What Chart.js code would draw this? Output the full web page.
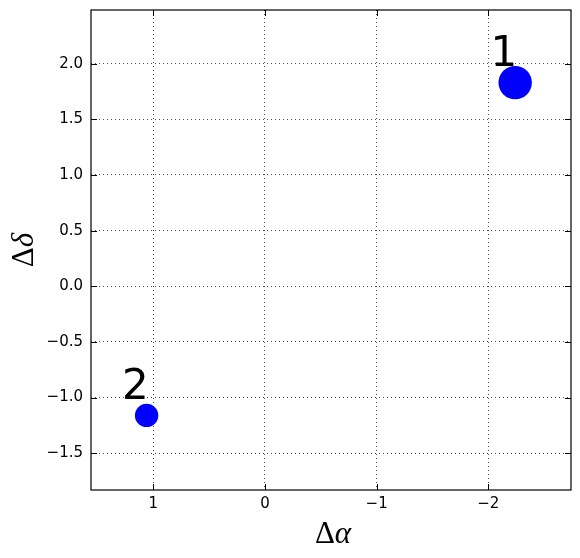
<!DOCTYPE html>
<html>
<head>
<meta charset="utf-8">
<script src="https://cdn.jsdelivr.net/npm/chart.js@4"></script>
<style>
html,body{margin:0;padding:0;background:#fff;}
#wrap{width:580px;height:558px;}
</style>
</head>
<body>
<div id="wrap"><canvas id="c" width="580" height="558"></canvas></div>
<script>
// Data
const pointLabels = ['1', '2'];
const deltaAlpha = [-2.24, 1.06];
const deltaDelta = [1.83, -1.16];
const markerRadius = [16.7, 11.7];
const xTickValues = [1, 0, -1, -2];
const yTickValues = [-1.5, -1.0, -0.5, 0.0, 0.5, 1.0, 1.5, 2.0];
const xRange = [-2.74, 1.558];
const yRange = [-1.83, 2.482];
const labelOffset = [0.22, 0.15];

const fmtMinus = s => s.replace('-', '\u2212');

const points = deltaAlpha.map((x, i) => ({x: x, y: deltaDelta[i]}));

const zeroPad = s => { s.paddingTop = 0; s.paddingBottom = 0; s.paddingLeft = 0; s.paddingRight = 0; };

const framePlugin = {
  id: 'frame',
  afterDatasetsDraw(chart) {
    const ctx = chart.ctx;
    const a = chart.chartArea;
    const xs = chart.scales.x, ys = chart.scales.y;
    ctx.save();
    // point labels
    ctx.fillStyle = '#000';
    ctx.font = '42px "DejaVu Sans"';
    ctx.textAlign = 'left';
    ctx.textBaseline = 'alphabetic';
    pointLabels.forEach((t, i) => {
      const px = xs.getPixelForValue(deltaAlpha[i] + labelOffset[0]);
      const py = ys.getPixelForValue(deltaDelta[i] + labelOffset[1]);
      ctx.fillText(t, px, py);
    });
    // inward ticks
    ctx.strokeStyle = '#000';
    ctx.lineWidth = 1;
    const L = 6;
    ctx.beginPath();
    xTickValues.forEach(v => {
      const px = Math.round(xs.getPixelForValue(v)) + 0.5;
      ctx.moveTo(px, a.bottom); ctx.lineTo(px, a.bottom - L);
      ctx.moveTo(px, a.top); ctx.lineTo(px, a.top + L);
    });
    yTickValues.forEach(v => {
      const py = Math.round(ys.getPixelForValue(v)) + 0.5;
      ctx.moveTo(a.left, py); ctx.lineTo(a.left + L, py);
      ctx.moveTo(a.right, py); ctx.lineTo(a.right - L, py);
    });
    ctx.stroke();
    // frame
    ctx.lineWidth = 1.2;
    ctx.strokeRect(a.left, a.top, a.right - a.left, a.bottom - a.top);
    // axis titles
    const drawTitle = (greek) => {
      ctx.font = '31px "Liberation Serif"';
      const w1 = ctx.measureText('\u0394').width;
      ctx.font = 'italic 31px "Liberation Serif"';
      const w2 = ctx.measureText(greek).width;
      const tot = w1 + w2;
      ctx.textAlign = 'left';
      ctx.font = '31px "Liberation Serif"';
      ctx.fillText('\u0394', -tot / 2, 0);
      ctx.font = 'italic 31px "Liberation Serif"';
      ctx.fillText(greek, -tot / 2 + w1, 0);
    };
    ctx.save();
    ctx.translate((a.left + a.right) / 2 + 2, 543);
    drawTitle('\u03b1');
    ctx.restore();
    ctx.save();
    ctx.translate(33, (a.top + a.bottom) / 2);
    ctx.rotate(-Math.PI / 2);
    drawTitle('\u03b4');
    ctx.restore();
    ctx.restore();
  }
};

new Chart(document.getElementById('c'), {
  type: 'scatter',
  data: {
    datasets: [{
      data: points,
      backgroundColor: '#0000ff',
      borderWidth: 0,
      pointRadius: markerRadius,
      pointHoverRadius: markerRadius
    }]
  },
  options: {
    responsive: false,
    animation: false,
    events: [],
    layout: {autoPadding: false, padding: {top: 10, right: 9, left: 0, bottom: 0}},
    plugins: {legend: {display: false}, tooltip: {enabled: false}},
    scales: {
      x: {
        type: 'linear',
        reverse: true,
        min: xRange[0],
        max: xRange[1],
        afterBuildTicks: s => { s.ticks = xTickValues.map(v => ({value: v})); },
        afterFit: s => { s.height = 68; zeroPad(s); },
        border: {display: false, dash: [1, 3]},
        grid: {color: 'rgba(0,0,0,0.7)', lineWidth: 1, drawTicks: false},
        ticks: {
          color: '#000',
          padding: 5,
          maxRotation: 0,
          font: {family: '"DejaVu Sans"', size: 15},
          callback: v => fmtMinus(String(v))
        }
      },
      y: {
        type: 'linear',
        min: yRange[0],
        max: yRange[1],
        afterBuildTicks: s => { s.ticks = yTickValues.map(v => ({value: v})); },
        afterFit: s => { s.width = 91; zeroPad(s); },
        border: {display: false, dash: [1, 3]},
        grid: {color: 'rgba(0,0,0,0.7)', lineWidth: 1, drawTicks: false},
        ticks: {
          color: '#000',
          padding: 8,
          font: {family: '"DejaVu Sans"', size: 15},
          callback: v => fmtMinus(Number(v).toFixed(1))
        }
      }
    }
  },
  plugins: [framePlugin]
});
</script>
</body>
</html>
